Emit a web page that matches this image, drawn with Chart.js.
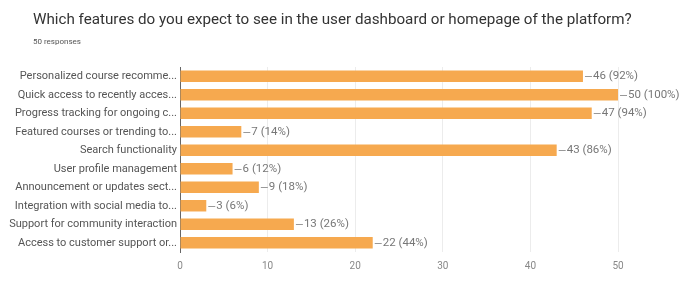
<!DOCTYPE html>
<html><head><meta charset="utf-8">
<script src="https://cdn.jsdelivr.net/npm/chart.js@4/dist/chart.umd.min.js"></script>
<style>
html,body{margin:0;padding:0;background:#fff;width:684px;height:298px;overflow:hidden;font-family:Roboto,Arial,sans-serif}
#t{position:absolute;left:33px;top:10px;font-size:15.2px;color:#333;white-space:nowrap}
#s{position:absolute;left:33px;top:37px;font-size:8px;color:#555}
#w{position:absolute;left:0;top:0;width:684px;height:298px}
</style></head><body>
<div id="w"><canvas id="c" width="684" height="298"></canvas></div>
<div id="t">Which features do you expect to see in the user dashboard or homepage of the platform?</div>
<div id="s">50 responses</div>
<script>
const categories = ["Personalized course recomme...","Quick access to recently acces...","Progress tracking for ongoing c...","Featured courses or trending to...","Search functionality","User profile management","Announcement or updates sect...","Integration with social media to...","Support for community interaction","Access to customer support or..."];
const counts = [46,50,47,7,43,6,9,3,13,22];
const percents = ["92%","100%","94%","14%","86%","12%","18%","6%","26%","44%"];
const xTicks = [0,10,20,30,40,50];

const valueLabels = {
  id:'valueLabels',
  afterDatasetsDraw(chart){
    const ctx = chart.ctx;
    const meta = chart.getDatasetMeta(0);
    ctx.save();
    ctx.font = '11.5px Roboto, Arial, sans-serif';
    ctx.fillStyle = '#777';
    ctx.strokeStyle = '#999';
    ctx.lineWidth = 1;
    ctx.textBaseline = 'middle';
    meta.data.forEach((bar,i)=>{
      const x = bar.x, y = Math.round(bar.y)+0.5;
      ctx.beginPath(); ctx.moveTo(x+2,y); ctx.lineTo(x+9,y); ctx.stroke();
      ctx.fillText(counts[i]+' ('+percents[i]+')', x+10, y);
    });
    ctx.restore();
  }
};

new Chart(document.getElementById('c'),{
  type:'bar',
  data:{labels:categories,datasets:[{data:counts,backgroundColor:'#f6a94f',borderWidth:0,barPercentage:0.62,categoryPercentage:1}]},
  options:{
    indexAxis:'y',responsive:false,animation:false,
    layout:{padding:{left:0,right:66,top:67,bottom:26}},
    plugins:{legend:{display:false},tooltip:{enabled:false},title:{display:false}},
    scales:{
      x:{min:0,max:50,afterBuildTicks(s){s.ticks=xTicks.map(v=>({value:v}));},
        afterFit(s){s.height=20;},
        grid:{color:'#ececec',drawTicks:false},border:{display:false},
        ticks:{color:'#888',font:{size:10,family:'Roboto, Arial, sans-serif'},padding:8}},
      y:{afterFit(s){s.width=180;},
        grid:{display:false,drawTicks:false},border:{display:true,color:'#666',width:1},
        ticks:{color:'#555',font:{size:11,family:'Roboto, Arial, sans-serif'},padding:3,autoSkip:false}}
    }
  },
  plugins:[valueLabels]
});
</script></body></html>
